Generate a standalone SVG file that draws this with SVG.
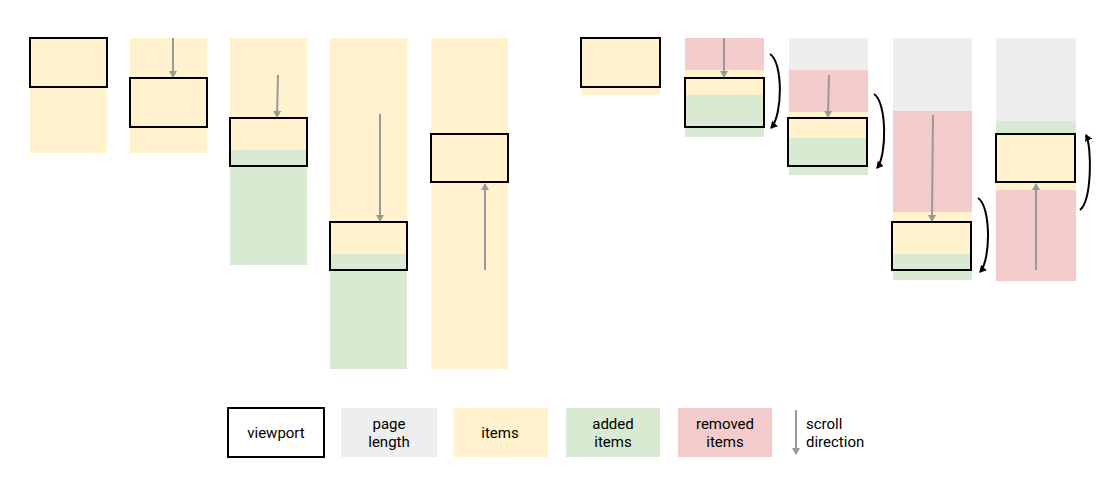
<svg xmlns="http://www.w3.org/2000/svg" width="1103" height="496" viewBox="0 0 1103 496">
<style>
.y{fill:#fff2cc}.g{fill:#d9ead3}.r{fill:#f4cccc}.p{fill:#eeeeee}
.vp{fill:none;stroke:#000;stroke-width:2}
.sa{stroke:#999;stroke-width:2;fill:none;marker-end:url(#ga)}
.ca{stroke:#000;stroke-width:2;fill:none;marker-end:url(#ka)}
text{font-family:Roboto,"Liberation Sans",sans-serif;font-size:15px;fill:#000;text-anchor:middle}
</style>
<defs>
<marker id="ga" markerWidth="8" markerHeight="8" refX="6" refY="4" orient="auto" markerUnits="userSpaceOnUse"><path d="M0,0L7,4L0,8z" fill="#999"/></marker>
<marker id="ka" markerWidth="8" markerHeight="8" refX="6" refY="4" orient="auto" markerUnits="userSpaceOnUse"><path d="M0,0L7,4L0,8z" fill="#000"/></marker>
</defs>
<rect width="1103" height="496" fill="#fff"/>
<g id="c1"><rect class="y" x="30" y="38" width="77" height="115"/><rect class="vp" x="30" y="38" width="77" height="49"/></g>
<g id="c2"><rect class="y" x="130" y="38" width="77" height="115"/><rect class="vp" x="130" y="78" width="77" height="49"/></g>
<g id="c3"><rect class="y" x="230" y="38" width="77" height="112"/><rect class="g" x="230" y="150" width="77" height="115"/><rect class="vp" x="230" y="118" width="77" height="48"/></g>
<g id="c4"><rect class="y" x="330" y="38" width="77" height="216"/><rect class="g" x="330" y="254" width="77" height="115"/><rect class="vp" x="330" y="222" width="77" height="48"/></g>
<g id="c5"><rect class="y" x="431" y="38" width="77" height="331"/><rect class="vp" x="431" y="134" width="77" height="48"/></g>
<g id="c6"><rect class="y" x="581" y="38" width="79" height="57"/><rect class="vp" x="581" y="38" width="79" height="49"/></g>
<g id="c7"><rect class="r" x="685" y="38" width="79" height="32"/><rect class="y" x="685" y="70" width="79" height="25"/><rect class="g" x="685" y="95" width="79" height="42"/><rect class="vp" x="685" y="78" width="79" height="49"/></g>
<g id="c8"><rect class="p" x="789" y="38" width="79" height="32"/><rect class="r" x="789" y="70" width="79" height="42"/><rect class="y" x="789" y="112" width="79" height="26"/><rect class="g" x="789" y="138" width="79" height="37"/><rect class="vp" x="788" y="118" width="79" height="48"/></g>
<g id="c9"><rect class="p" x="893" y="38" width="79" height="73"/><rect class="r" x="893" y="111" width="79" height="101"/><rect class="y" x="893" y="212" width="79" height="42"/><rect class="g" x="893" y="254" width="79" height="26"/><rect class="vp" x="892" y="222" width="79" height="48"/></g>
<g id="c10"><rect class="p" x="996" y="38" width="80" height="83"/><rect class="g" x="996" y="121" width="80" height="13"/><rect class="y" x="996" y="134" width="80" height="56"/><rect class="r" x="996" y="190" width="80" height="91"/><rect class="vp" x="996" y="134" width="79" height="48"/></g>
<g id="connectors">
<path class="sa" d="M173,38V77"/>
<path class="sa" d="M278,75L277,117"/>
<path class="sa" d="M380,114V221"/>
<path class="sa" d="M485,270V184"/>
<path class="sa" d="M724,38V77"/>
<path class="sa" d="M829,75L828,117"/>
<path class="sa" d="M933,115L932,221"/>
<path class="sa" d="M1036,270V184"/>
<path class="ca" d="M770,54C783,62 783,115 771,128"/>
<path class="ca" d="M874,94C887,102 887,156 877,168"/>
<path class="ca" d="M978,198C991,206 991,260 980,272"/>
<path class="ca" d="M1080,210C1092,200 1092,147 1086,135"/>
</g>
<g id="legend">
<rect class="vp" x="228" y="408" width="96" height="49"/><text x="276" y="438">viewport</text>
<rect class="p" x="341" y="408" width="96" height="49"/><text x="389" y="429">page</text><text x="389" y="447">length</text>
<rect class="y" x="453" y="408" width="95" height="49"/><text x="500" y="438">items</text>
<rect class="g" x="566" y="408" width="94" height="49"/><text x="613" y="429">added</text><text x="613" y="447">items</text>
<rect class="r" x="678" y="408" width="94" height="49"/><text x="725" y="429">removed</text><text x="725" y="447">items</text>
<path class="sa" d="M796,410V454"/>
<text x="806" y="429" style="text-anchor:start">scroll</text><text x="806" y="447" style="text-anchor:start">direction</text>
</g>
</svg>
